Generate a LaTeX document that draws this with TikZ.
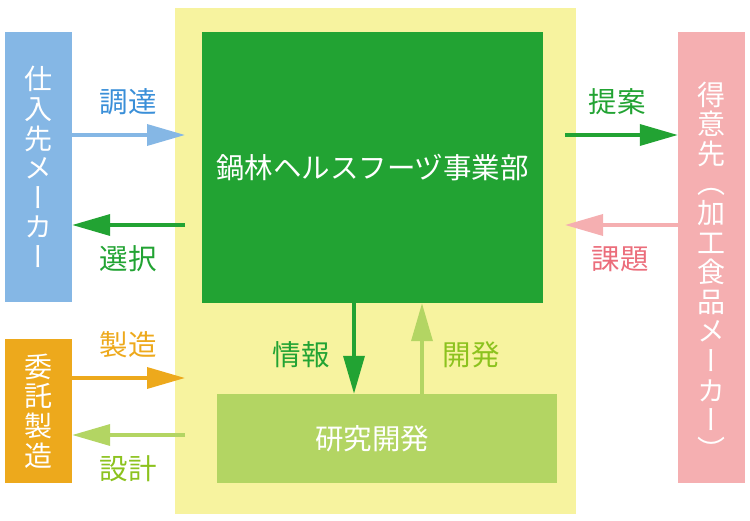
\documentclass[tikz,border=0pt]{standalone}
\usepackage{fontspec}
\setmainfont{Noto Sans CJK JP}
\newfontfamily\vertfont[RawFeature=+vert]{Noto Sans CJK JP}
\usetikzlibrary{arrows.meta}
\definecolor{BgYellow}{HTML}{F7F39F}
\definecolor{DeptGreen}{HTML}{22A333}
\definecolor{LabGreen}{HTML}{B3D563}
\definecolor{LabText}{HTML}{8CC21E}
\definecolor{SupBlue}{HTML}{85B7E5}
\definecolor{SupText}{HTML}{3A8FD8}
\definecolor{MfgOrange}{HTML}{EDA91C}
\definecolor{CusPink}{HTML}{F5AFB1}
\definecolor{CusText}{HTML}{EB6D7B}
\tikzset{>={Triangle[length=38pt,width=21pt]},
  box/.style={rectangle, inner sep=0pt, draw=none},
  vtext/.style={align=center, text=white, font=\vertfont\fontsize{28}{29.6}\selectfont},
  flow/.style={line width=3.5pt, ->},
  tag/.style={font=\fontsize{28.5}{30}\selectfont}}

\begin{document}
\begin{tikzpicture}[x=1pt,y=-1pt]
    \useasboundingbox (0,0) rectangle (750,521);
    \node[box, fill=BgYellow, minimum width=401pt, minimum height=506pt] (unit) at (375.5,261) {};
    \node[box, fill=DeptGreen, minimum width=341pt, minimum height=271pt, text=white, font=\fontsize{28.5}{30}\selectfont] (dept) at (372.5,167.5) {鍋林ヘルスフーヅ事業部};
    \node[box, fill=LabGreen, minimum width=340pt, minimum height=89pt] (rd) at (387,438.5) {};
    \node[text=white, font=\fontsize{28.5}{30}\selectfont] (rdtext) at (372,438.5) {研究開発};
    % outside partners
    \node[box, fill=SupBlue, minimum width=67pt, minimum height=270pt, vtext] (sup) at (38.5,167) {仕\\入\\先\\メ\\ー\\カ\\ー};
    \node[box, fill=MfgOrange, minimum width=67pt, minimum height=144pt, vtext] (mfg) at (38.5,411) {委\\託\\製\\造};
    \node[box, fill=CusPink, minimum width=67pt, minimum height=451pt] (cus) at (711.5,257.5) {};
    \node[vtext] (custext) at (711.5,271) {得\\意\\先\\（\\加\\工\\食\\品\\メ\\ー\\カ\\ー\\）};
    \coordinate (inA) at (185,135);
    \coordinate (outA) at (185,225);
    \coordinate (inB) at (185,378);
    \coordinate (outB) at (185,435);
    \coordinate (outC) at (565,135);
    \coordinate (inC) at (565,225);
    \coordinate (infoX) at (354,0);
    \coordinate (devX) at (422,0);
    \draw[flow, SupBlue] (sup.east |- inA) -- (inA);
    \draw[flow, DeptGreen] (outA) -- (sup.east |- outA);
    \draw[flow, MfgOrange] (mfg.east |- inB) -- (inB);
    \draw[flow, LabGreen] (outB) -- (mfg.east |- outB);
    \draw[flow, DeptGreen] (outC) -- (cus.west |- outC);
    \draw[flow, CusPink] (cus.west |- inC) -- (inC);
    \draw[flow, DeptGreen] (dept.south -| infoX) -- (rd.north -| infoX);
    \draw[flow, LabGreen] (rd.north -| devX) -- (dept.south -| devX);
    \node[tag, text=SupText] (procure) at (128,102) {調達};
    \node[tag, text=DeptGreen] (select) at (128,259) {選択};
    \node[tag, text=MfgOrange] (make) at (128,345) {製造};
    \node[tag, text=LabText] (design) at (128,469) {設計};
    \node[tag, text=DeptGreen] (propose) at (617,102) {提案};
    \node[tag, text=CusText] (issue) at (620,259) {課題};
    \node[tag, text=DeptGreen] (info) at (301,355) {情報};
    \node[tag, text=LabText] (develop) at (471,355) {開発};
\end{tikzpicture}
\end{document}
